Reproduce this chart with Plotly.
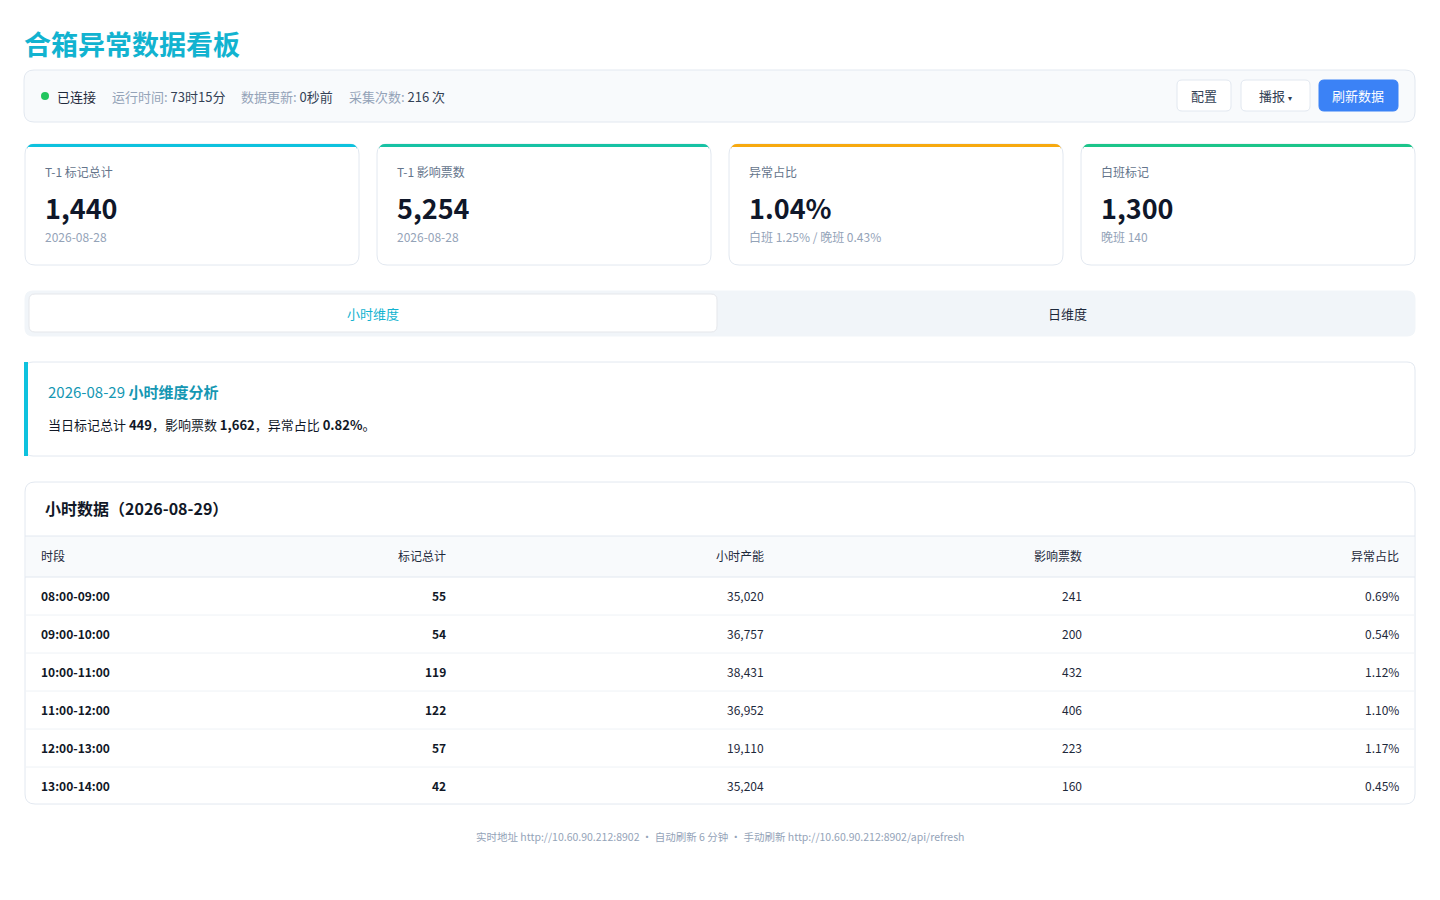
import plotly.graph_objects as go

F = "Noto Sans CJK SC"
periods = ["08:00-09:00", "09:00-10:00", "10:00-11:00", "11:00-12:00", "12:00-13:00", "13:00-14:00"]
marks = [55, 54, 119, 122, 57, 42]
capacity = [35020, 36757, 38431, 36952, 19110, 35204]
tickets = [241, 200, 432, 406, 223, 160]
ratios = ["0.69%", "0.54%", "1.12%", "1.10%", "1.17%", "0.45%"]
card_labels = ["T-1 标记总计", "T-1 影响票数", "异常占比", "白班标记"]
card_values = ["1,440", "5,254", "1.04%", "1,300"]
card_subs = ["2026-08-28", "2026-08-28", "白班 1.25% / 晚班 0.43%", "晚班 140"]
card_colors = ["#0ec2de", "#17c2a4", "#f7a90f", "#1cc58a"]

fig = go.Figure()
shapes, ann = [], []

def rr(x0, y0, x1, y1, r, fill, line="#e2e8f0", lw=1):
    p = (f"M{x0+r},{y0} L{x1-r},{y0} Q{x1},{y0} {x1},{y0+r} L{x1},{y1-r} Q{x1},{y1} {x1-r},{y1} "
         f"L{x0+r},{y1} Q{x0},{y1} {x0},{y1-r} L{x0},{y0+r} Q{x0},{y0} {x0+r},{y0} Z")
    shapes.append(dict(type="path", path=p, xref="x", yref="y", fillcolor=fill,
                       line=dict(color=line, width=lw), layer="below"))

def rect(x0, y0, x1, y1, fill, lw=0, line=None):
    shapes.append(dict(type="rect", x0=x0, y0=y0, x1=x1, y1=y1, xref="x", yref="y",
                       fillcolor=fill, line=dict(width=lw, color=line or fill), layer="below"))

def t(x, y, s, size=12, color="#1e293b", anchor="left", bold=False):
    dx = {"left": -2, "right": 2, "center": 0}[anchor]
    ann.append(dict(x=x + dx, y=y - 1, xref="x", yref="y", text=f"<b>{s}</b>" if bold else s, showarrow=False,
                    xanchor=anchor, yanchor="middle", font=dict(family=F, size=size, color=color)))

t(24, 44, "合箱异常数据看板", 27, "#12b3d0", bold=True)
rr(24, 70, 1415, 122, 10, "#f8fafc")
shapes.append(dict(type="circle", x0=41, y0=92, x1=49, y1=100, xref="x", yref="y",
                   fillcolor="#22c55e", line=dict(width=0)))
t(57, 97, "已连接", 13, "#1e293b")
t(112, 97, "运行时间: <span style='color:#334155'>73时15分</span>", 13, "#94a3b8")
t(241, 97, "数据更新: <span style='color:#334155'>0秒前</span>", 13, "#94a3b8")
t(349, 97, "采集次数: <span style='color:#334155'>216 次</span>", 13, "#94a3b8")
rr(1177, 80, 1231, 111, 5, "#ffffff")
t(1204, 96, "配置", 13, "#334155", "center")
rr(1241, 80, 1310, 111, 5, "#ffffff")
t(1275, 96, "播报 <span style='font-size:8px'>▾</span>", 13, "#334155", "center")
rr(1319, 80, 1398, 111, 5, "#3b82f6", "#3b82f6")
t(1358, 96, "刷新数据", 13, "#ffffff", "center")

for i in range(4):
    x0 = 25 + i * 352
    x1 = x0 + 334
    rr(x0, 144, x1, 265, 10, "#ffffff")
    p = f"M{x0},{152} Q{x0},{144} {x0+8},{144} L{x1-8},{144} Q{x1},{144} {x1},{152} L{x1},{147} L{x0},{147} Z"
    shapes.append(dict(type="path", path=f"M{x0+2},149 Q{x0+3},144 {x0+8},144 L{x1-8},144 Q{x1-3},144 {x1-2},149 L{x1-2},147 L{x0+2},147 Z",
                       xref="x", yref="y", fillcolor=card_colors[i], line=dict(width=0)))
    t(x0 + 20, 172, card_labels[i], 12, "#64748b")
    t(x0 + 20, 208, card_values[i], 27, "#0f172a", bold=True)
    t(x0 + 20, 237, card_subs[i], 12, "#94a3b8")

rr(25, 291, 1415, 336, 8, "#f1f5f9", "#f1f5f9")
rr(29, 294, 717, 332, 6, "#ffffff", "#e5e7eb")
t(373, 314, "小时维度", 13, "#12b3d0", "center")
t(1067, 314, "日维度", 13, "#1e293b", "center")

rr(25, 362, 1415, 456, 8, "#ffffff")
rect(24, 362, 28, 456, "#0ec2de")
t(48, 392, "2026-08-29 <b>小时维度分析</b>", 15, "#1597b3")
t(48, 425, "当日标记总计 <b>449</b>，影响票数 <b>1,662</b>，异常占比 <b>0.82%</b>。", 13, "#111827")

rr(25, 482, 1415, 804, 10, "#ffffff")
t(45, 509, "小时数据（2026-08-29）", 16, "#111827", bold=True)
rect(26, 536, 1414, 577, "#f8fafc")
shapes.append(dict(type="line", x0=25, x1=1415, y0=536, y1=536, xref="x", yref="y", line=dict(color="#e2e8f0", width=1)))
shapes.append(dict(type="line", x0=25, x1=1415, y0=577, y1=577, xref="x", yref="y", line=dict(color="#e2e8f0", width=1)))
cols = [(41, "left", "时段"), (446, "right", "标记总计"), (764, "right", "小时产能"), (1082, "right", "影响票数"), (1399, "right", "异常占比")]
for x, a, h in cols:
    t(x, 556, h, 12, "#1e293b", a)
for i in range(len(periods)):
    y = 596 + 38 * i
    t(41, y, periods[i], 12, "#111827", "left", True)
    t(446, y, str(marks[i]), 12, "#111827", "right", True)
    t(764, y, f"{capacity[i]:,}", 12, "#1e293b", "right")
    t(1082, y, str(tickets[i]), 12, "#1e293b", "right")
    t(1399, y, ratios[i], 12, "#1e293b", "right")
    if i < len(periods) - 1:
        shapes.append(dict(type="line", x0=26, x1=1414, y0=y + 19, y1=y + 19, xref="x", yref="y",
                           line=dict(color="#eef2f6", width=1)))

t(720, 837, "实时地址 http://10.60.90.212:8902 · 自动刷新 6 分钟 · 手动刷新 http://10.60.90.212:8902/api/refresh", 10.5, "#94a3b8", "center")

fig.update_layout(width=1440, height=900, margin=dict(l=0, r=0, t=0, b=0),
                  paper_bgcolor="#ffffff", plot_bgcolor="#ffffff", shapes=shapes, annotations=ann,
                  xaxis=dict(range=[0, 1440], visible=False, fixedrange=True),
                  yaxis=dict(range=[900, 0], visible=False, fixedrange=True), showlegend=False)
fig.write_html("out.html", config={"displayModeBar": False},
               post_script="document.body.style.margin='0';document.body.style.overflow='hidden';")
